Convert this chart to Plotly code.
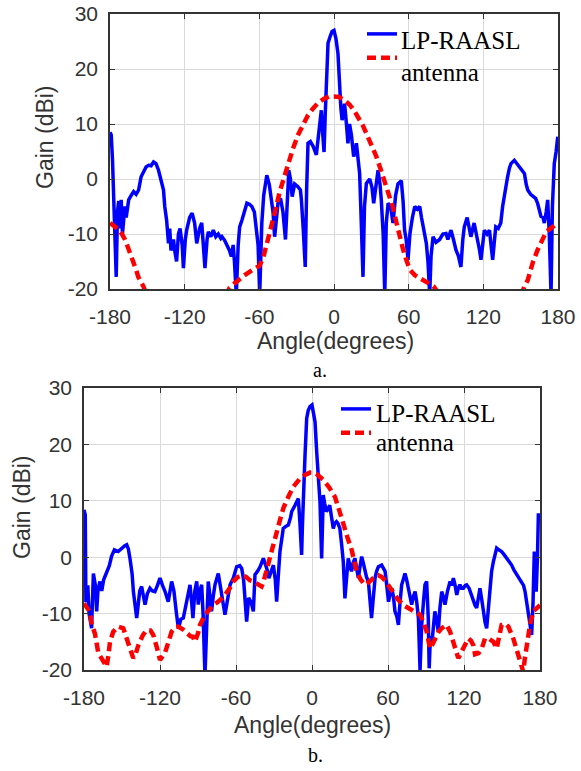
import plotly.graph_objects as go

# ---------------- data: panel a ----------------
ANG_A_BLUE = [-180, -179, -178, -177, -176, -175, -174, -173, -172, -171, -170, -169, -168, -167, -165, -163, -161, -159,
              -157, -155, -153, -151, -149, -147, -145, -143, -141, -139, -137, -136, -134.5, -133, -132, -131, -129,
              -128, -126.5, -125, -123.7, -122, -121, -119.5, -118.4, -116, -114, -112, -110.3, -108, -106.3, -105,
              -103.7, -102, -101, -99, -97, -95, -93, -91, -90, -88, -86, -84, -82.5, -81, -80, -78.5, -77, -75.8,
              -74, -72, -70, -68, -66, -64, -62.4, -61, -59.7, -58, -56.5, -55.7, -54, -52, -50.4, -49, -47.7, -46,
              -45, -43, -41, -39, -38, -36.3, -35, -33.6, -31.6, -29, -27, -26.2, -24.5, -23.1, -22, -20.9, -19,
              -16.9, -14.2, -12.9, -11.5, -10.2, -9, -8, -7, -6.2, -4.8, -3, -1.6, 0, 1.6, 3.2, 4.6, 5.5, 6.5, 7.5,
              8.5, 10, 11.2, 12.5, 14, 15.8, 17, 18, 19.5, 20.6, 21.5, 22.5, 23.3, 24.5, 26, 28.7, 30.5, 31.9, 33.5,
              35.4, 37, 38, 39.5, 40.8, 42, 43.5, 45.5, 47.4, 49.5, 51.4, 54.1, 55.5, 56.7, 58, 59.5, 61, 63, 64.9,
              67, 68.9, 70.3, 71.6, 73, 74.2, 75.5, 76.9, 78, 79.6, 82, 84.9, 87.5, 90, 91.5, 94, 96, 98, 100, 102,
              103.5, 104.7, 107, 108.5, 110, 112.6, 114, 115.3, 117, 118.1, 119.5, 120.8, 123, 124.9, 126.2, 127.5,
              129, 130, 132, 134, 135.5, 136.8, 138, 139.5, 141, 142.2, 144.9, 147, 149, 151, 153, 154.5, 155.7, 158,
              160, 162, 163.6, 165, 166.3, 168, 169, 170.5, 171.7, 173, 174.4, 175.5, 177, 178.5, 179.8]
GAIN_A_BLUE = [8.5, 8.0, 3.5, -5, -12, -17.8, -6, -4, -9, -3.8, -10, -8, -5, -7, -3.8, -3, -2.3, -2.8,
               -2, 0.4, 1.5, 2.2, 2.5, 2.4, 3.1, 2.8, 1.6, -0.5, -2, -5, -7.5, -11.7, -9, -13, -11,
               -13, -15, -10, -9, -12, -16.2, -11, -9.3, -7, -6.2, -8, -11.7, -9, -8, -12,
               -16.2, -11, -9.6, -10.5, -9.3, -10.5, -10, -10.8, -10.5, -11.1, -12, -13, -14.1, -12, -15, -21, -12, -8.7,
               -7.5, -6, -4.4, -4.6, -5, -6, -8.7, -12, -21, -8, -3, -1.4, 0.7, -1, -3.2, -6, -10.5, -7,
               -4.4, -3.5, -6, -11, -6, 1.6, 0, -3.2, -0.9, -1.4, -2, -3.8, -10, -16, -2, 6.5, 6.8,
               6, 4.4, 7.4, 10, 12.5, 8, 4.9, 12, 16.8, 24.7, 26, 26.8, 27, 25.5, 22.8, 15, 13, 10.7, 12,
               13.7, 10, 6.5, 10, 8, 4.1, 5, 6.5, 4, 1, -5, -12, -17.8, -5, -0.8, 0, -1.5, -4.4, -1,
               1.6, -1, -3.8, -10, -21, -8, -4.4, -5, -8, -3, -0.9, -0.3, -4, -9.3, -11, -14.7, -10, -7, -5,
               -5.5, -5, -7, -8.7, -10, -11.7, -15, -21, -14, -10.5, -11.5, -11, -10, -9.9, -11, -9.3, -11, -12.9, -14, -16,
               -11, -8.7, -7, -9, -10.5, -8, -9.5, -11, -13, -14.7, -11, -9.3, -10, -9.3, -12, -14.7,
               -11, -8.7, -9, -8, -5, -3.2, -1, 0.4, 2, 2.8, 3.4, 2.8, 2.2, 1.6, 1, -1, -2, -2.8,
               -3.2, -3.5, -4.4, -5.5, -6.8, -7, -8, -6, -3.8, -10, -21, -5, 2.8, 5, 7.7]

ANG_A_RED = [-180, -177, -174, -171, -168, -165.3, -162, -159, -157.3, -155, -153, -150, -140, -120, -100, -88, -84,
             -80, -76, -72, -66, -60, -57, -54, -51.7, -48, -43.6, -40, -36.9, -33, -28.9, -25, -20.9, -17, -12.9,
             -8, -4, 0, 4, 8, 12.6, 16, 19.3, 23, 26, 30, 34, 38, 42, 45, 47.4, 50, 52.8, 55.5, 58.1, 61, 65, 70,
             75, 80, 83, 90, 120, 145, 150, 153, 155.7, 158, 160, 163.6, 166, 168, 170.4, 174, 177, 180]
GAIN_A_RED = [-8, -8.5, -9, -9.8, -11, -12.6, -14.5, -16.5, -17.8, -18.8, -19.6, -21.5, -26, -30, -26, -22, -19.8,
              -19, -18.2, -17.5, -16.6, -15.8, -14.4, -12, -9.9, -6.5, -2.3, 0.5, 2.8, 5.5, 8, 10, 11.6, 12.8, 13.8,
              14.6, 15, 15, 14.9, 14.4, 13.5, 12.5, 11.3, 9.8, 8.3, 6.3, 4.1, 1.4, -1.4, -3.5, -5.2, -7.8, -10.5, -12.8, -14.7, -16.5, -17.5, -18.2,
              -18.8, -19.5, -20.5, -24, -30, -24, -21.5, -19.5, -18.4, -16.5, -15, -12.9, -11.5, -10.8, -9.6, -9, -8.5, -8]

# ---------------- data: panel b ----------------
ANG_B_BLUE = [-180, -179, -178.5, -177, -176, -174, -172.6, -171, -170, -169, -167.4, -166, -164.5, -162.2, -160, -158.2,
              -156, -153, -150.2, -148, -146.3, -145, -143.6, -142, -141, -139.5, -138.4, -137, -136, -134.5, -133,
              -131.8, -130, -127.9, -126, -124, -122, -120, -118, -116, -113.5, -112, -110.8, -109, -108.2, -107,
              -105.5, -103.5, -101.6, -100, -99, -97.5, -96.3, -95, -94, -92.5, -91, -89.8, -88.5, -87.1, -86, -84.5,
              -83, -81.9, -80.5, -79.3, -78, -76.6, -74, -72.5, -71.3, -70, -68.7, -67, -64.7, -62.1, -59.5, -57,
              -55.5, -54, -53, -51.6, -50, -48, -46.3, -45, -43, -41, -38.4, -37, -35.7, -34, -32, -30.5, -29, -27.9,
              -26.5, -25.3, -24, -22.7, -20.5, -18.7, -17, -16, -13.4, -12, -10.8, -9.5, -8.2, -7.5, -6.8, -5.5,
              -4.2, -3, -1.6, 0, 1.2, 2.4, 3.7, 5, 6.3, 7.6, 8.9, 10, 11.4, 12.5, 14, 15.5, 16.8, 18, 19.3, 20.5, 22,
              23.5, 24.7, 26, 27.3, 28.6, 30, 31.2, 32.5, 33.9, 35.3, 36.6, 38, 39.2, 40.5, 41.8, 43, 44.5, 45.8, 47,
              48.5, 49.8, 51, 52.4, 55, 57.7, 59, 60.4, 61.7, 63, 64.3, 65.5, 67, 68.2, 69.5, 70.8, 72, 73.4, 74.7,
              76.1, 77.4, 78.7, 80, 81.4, 82.7, 84, 85.3, 86.6, 88, 89.2, 90.5, 91.8, 92.5, 93.5, 94.5, 95.8, 97,
              98.3, 99.7, 101, 102.4, 103.7, 105, 107, 109, 110.3, 111.6, 113, 114.3, 115.5, 116.8, 118, 119.5, 121,
              122.1, 124, 125.5, 127.4, 128.7, 130, 131.3, 132.6, 134, 135.3, 136.6, 137.9, 139.2, 140.5, 141.8,
              143.2, 144.5, 145.8, 147.5, 149.7, 151.5, 153.7, 155.5, 157.6, 159.5, 161.6, 163.5, 165.5, 167, 168.2,
              169.5, 170.8, 172, 173.4, 174.5, 175.5, 176.3, 177, 178, 178.7, 180]
GAIN_B_BLUE = [8.4, 7.5, -8, -5, -10, -12.6, -2.9, -5, -9.6, -6, -4.3, -6, -4, -2.6, -1.5, 0.2,
               1.3, 1, 1.6, 2, 2.2, 1.5, -0.4, -3, -6.1, -9, -10.8, -8, -6, -5.2, -7,
               -8.4, -6.5, -5.5, -6, -6.1, -5, -3.7, -5, -6.1, -7.9, -6, -4.3, -6, -8.4, -10,
               -12.6, -11, -10.8, -9, -7.9, -6, -4.9, -8, -10.8, -6, -4.3, -8.4, -6, -4.9, -10, -21,
               -8, -4.3, -7, -9.6, -7, -4.9, -2.9, -5, -7.2, -9, -10.2, -8, -4.9, -3.7, -1.7, -1.5,
               -2, -4, -7.2, -11.4, -7.2, -8, -9.6, -3.1, -2.5, -1.7, -0.2, -1, -2, -3.7, -2.5, -1.4, -4, -7.9,
               -3, 1, 3, 5.1, 5.5, 5.7, 7, 8.1, 9.2, 9.8, 10.4, 6, 0.4, 6, 11.6, 18.1,
               24.6, 26, 26.7, 27, 25.5, 24, 18.7, 14, 9.8, -0.2, 11, 9.5, 8.1, 8.5, 9.2, 7, 5.1, 6, 6.3, 6, 5.1,
               2, -0.8, -7.3, -3, -0.2, -1.5, -2.5, -1, -0.2, -2, -3.7, -1.5, 0.1, -1, -2.5, -3.5, -4.3, -7, -10.8,
               -7, -3.7, -2.5, -1.7, -1.4, -2.5, -5, -7.9, -6.5, -5.5, -7, -9.6, -10.5, -12, -8, -4.9, -4, -2.9, -4,
               -5.5, -7, -8.4, -7, -6.1, -8, -10.8, -20, -12, -7.9, -4.9, -4.3, -10.8, -19.7, -14, -15.6, -12, -9.6,
               -11, -13.2, -9, -6.1, -7, -8.4, -6, -4.3, -5, -3.7, -5, -6.7, -5.5, -4.9, -5.5, -5.5, -5,
               -4.9, -5.5, -6.5, -7.9, -8.5, -9, -7, -5.5, -7.5, -10.2, -11.5, -12.6, -9, -4.9, -2.5,
               -0.8, 0.5, 1.6, 1.3, 1, 0.5, -0.2, -1, -1.4, -2.3, -3.1, -3.7, -4.3, -5, -6.1,
               -8, -9.6, -11.5, -13.8, -8, 1, -3, -6.1, 0, 7.5, 7.5]

ANG_B_RED = [-180, -179.2, -177, -175.3, -173.9, -171.4, -168.7, -165, -162.1, -160.5, -159.5, -156.9, -153, -149,
             -146.3, -143.5, -141.1, -139, -137.1, -133.5, -130.5, -127.5, -125.3, -122.5, -120, -116.1, -113,
             -110.8, -108, -105.6, -102, -99, -96, -94, -92.4, -90, -88.4, -84.5, -81, -78, -73, -68.7, -65, -62.1,
             -58.5, -55.5, -52, -49, -46.3, -43, -39.8, -38.5, -37.1, -35, -33.2, -31, -29.2, -26, -22.6, -18.5,
             -14.7, -10, -5.5, -1.6, 1.5, 4, 8.9, 13.5, 18.1, 21.5, 24.7, 28, 31.3, 33.5, 35.3, 38.5, 41.8, 45,
             48.4, 52.3, 55, 57.6, 61, 64.2, 68, 72.1, 75.5, 78.7, 82, 85.3, 88, 90.5, 93.2, 95, 97, 100, 102.4,
             106.3, 109, 111.6, 113.5, 115.5, 117.5, 119.5, 121.5, 123.4, 125.5, 127.4, 128.7, 131.5, 134, 136.6,
             140, 143.2, 145.8, 147.5, 149.7, 152.5, 155, 158.9, 161, 162.9, 166.8, 168, 169.5, 172.1, 174.7, 177, 180]
GAIN_B_RED = [-8.2, -8.5, -9, -9.7, -12, -13.5, -17, -18.5, -19.4, -17, -15, -13.2, -12.3, -12.6,
              -14.4, -16.5, -17.9, -17, -15.6, -13.8, -12.9, -13, -13.8, -16, -18.2, -17, -15,
              -13.2, -12.4, -12.3, -12.8, -13.5, -14, -14.1, -15, -13.5, -12, -10.2, -9.2, -8.5, -7.7, -6.7, -5.5, -4.3,
              -3.5, -3.2, -3.5, -4.1, -4.3, -4.8, -5.2, -4.5, -3.4, -1.8, -0.2, 1.5, 3.3, 6, 8.7, 10.8,
              12.5, 13.8, 14.6, 15, 15, 14.7, 13.7, 12.4, 10.7, 8.3, 5.7, 3.5, 1.3, -0.7, -2.6, -4, -4.9, -4.4,
              -3.7, -3.2, -3.5, -4.1, -5.2, -6.4, -7.5, -8.5, -9, -9.4, -9.8, -10.2, -11.5, -13.2, -16.2, -15.5, -14.4, -13.2, -12.6,
              -12, -13.2, -15, -16.5, -17.9, -17, -16.2, -15, -14.4, -14.8, -15.6, -17.2, -17, -16.2, -14.4,
              -14.5, -15, -16.2, -14, -12, -11.8, -12.3, -14.4, -16, -17.9, -20.3, -18, -15.6, -12, -9.6, -9, -8.5]

X_TICKS = [-180, -120, -60, 0, 60, 120, 180]
X_TICK_TEXT = ["-180", "-120", "-60", "0", "60", "120", "180"]
Y_TICKS = [-20, -10, 0, 10, 20, 30]
Y_TICK_TEXT = ["-20", "-10", "0", "10", "20", "30"]
NAME_BLUE = "LP-RAASL"
NAME_RED = "antenna"

W, H = 581, 771
BLUE = "#0000FF"
RED = "#FF0000"
AX_COL = "#333333"
GRID = "#d9d9d9"
SANS = "Liberation Sans, Arial, sans-serif"
SERIF = "Liberation Serif, Times New Roman, serif"

fig = go.Figure()
fig.add_trace(go.Scatter(x=ANG_A_BLUE, y=GAIN_A_BLUE, mode="lines", name=" ",
                         line=dict(color=BLUE, width=3.5), xaxis="x", yaxis="y", legend="legend"))
fig.add_trace(go.Scatter(x=ANG_A_RED, y=GAIN_A_RED, mode="lines", name=" ",
                         line=dict(color=RED, width=4.5, dash="9px,5px"), xaxis="x", yaxis="y", legend="legend"))
fig.add_trace(go.Scatter(x=ANG_B_BLUE, y=GAIN_B_BLUE, mode="lines", name=" ",
                         line=dict(color=BLUE, width=3.5), xaxis="x2", yaxis="y2", legend="legend2"))
fig.add_trace(go.Scatter(x=ANG_B_RED, y=GAIN_B_RED, mode="lines", name=" ",
                         line=dict(color=RED, width=4.5, dash="9px,5px"), xaxis="x2", yaxis="y2", legend="legend2"))

def px_x(p):
    return p / W

def px_y(p):
    return 1 - p / H

common_x = dict(range=[-180, 180], tickvals=X_TICKS, ticktext=X_TICK_TEXT, showgrid=True, gridcolor=GRID,
                gridwidth=1, zeroline=False, showline=True, linecolor=AX_COL, linewidth=1.5, mirror="ticks",
                ticks="inside", ticklen=5, tickcolor=AX_COL, automargin=False,
                tickfont=dict(family=SANS, size=21, color=AX_COL), ticklabelstandoff=8)
common_y = dict(range=[-20, 30], tickvals=Y_TICKS, ticktext=Y_TICK_TEXT, showgrid=True, gridcolor=GRID,
                gridwidth=1, zeroline=False, showline=True, linecolor=AX_COL, linewidth=1.5, mirror="ticks",
                ticks="inside", ticklen=5, tickcolor=AX_COL, automargin=False,
                tickfont=dict(family=SANS, size=21, color=AX_COL), ticklabelstandoff=6)

fig.update_layout(
    width=W, height=H, margin=dict(l=0, r=0, t=0, b=0, autoexpand=False),
    paper_bgcolor="white", plot_bgcolor="white",
    xaxis=dict(domain=[px_x(110), px_x(558)], anchor="y", **common_x),
    yaxis=dict(domain=[px_y(289), px_y(14)], anchor="x", **common_y),
    xaxis2=dict(domain=[px_x(84), px_x(540)], anchor="y2", **common_x),
    yaxis2=dict(domain=[px_y(670), px_y(388)], anchor="x2", **common_y),
    legend=dict(x=px_x(362), y=px_y(17), xanchor="left", yanchor="top", bgcolor="rgba(0,0,0,0)",
                font=dict(family=SERIF, size=16), tracegroupgap=0, itemwidth=30),
    legend2=dict(x=px_x(336), y=px_y(392), xanchor="left", yanchor="top", bgcolor="rgba(0,0,0,0)",
                 font=dict(family=SERIF, size=16), tracegroupgap=0, itemwidth=30),
    showlegend=True,
)

ann = []
def add_text(text, x, y, size, family, xanchor="center", angle=0):
    ann.append(dict(text=text, x=px_x(x), y=px_y(y), xref="paper", yref="paper", showarrow=False,
                    xanchor=xanchor, yanchor="middle", textangle=angle,
                    font=dict(family=family, size=size, color="#000000" if family == SERIF else AX_COL)))

add_text(NAME_BLUE, 399, 40, 25, SERIF, xanchor="left")
add_text(NAME_RED, 399, 72, 25, SERIF, xanchor="left")
add_text(NAME_BLUE, 374, 413, 25, SERIF, xanchor="left")
add_text(NAME_RED, 374, 443, 25, SERIF, xanchor="left")
add_text("Gain (dBi)", 45, 137, 23, SANS, angle=-90)
add_text("Angle(degrees)", 335, 341, 23, SANS)
add_text("a.", 320, 370, 20, SERIF)
add_text("Gain (dBi)", 22, 507, 23, SANS, angle=-90)
add_text("Angle(degrees)", 312, 725, 23, SANS)
add_text("b.", 315, 755, 20, SERIF)
fig.update_layout(annotations=ann)

fig.write_html("out.html")
